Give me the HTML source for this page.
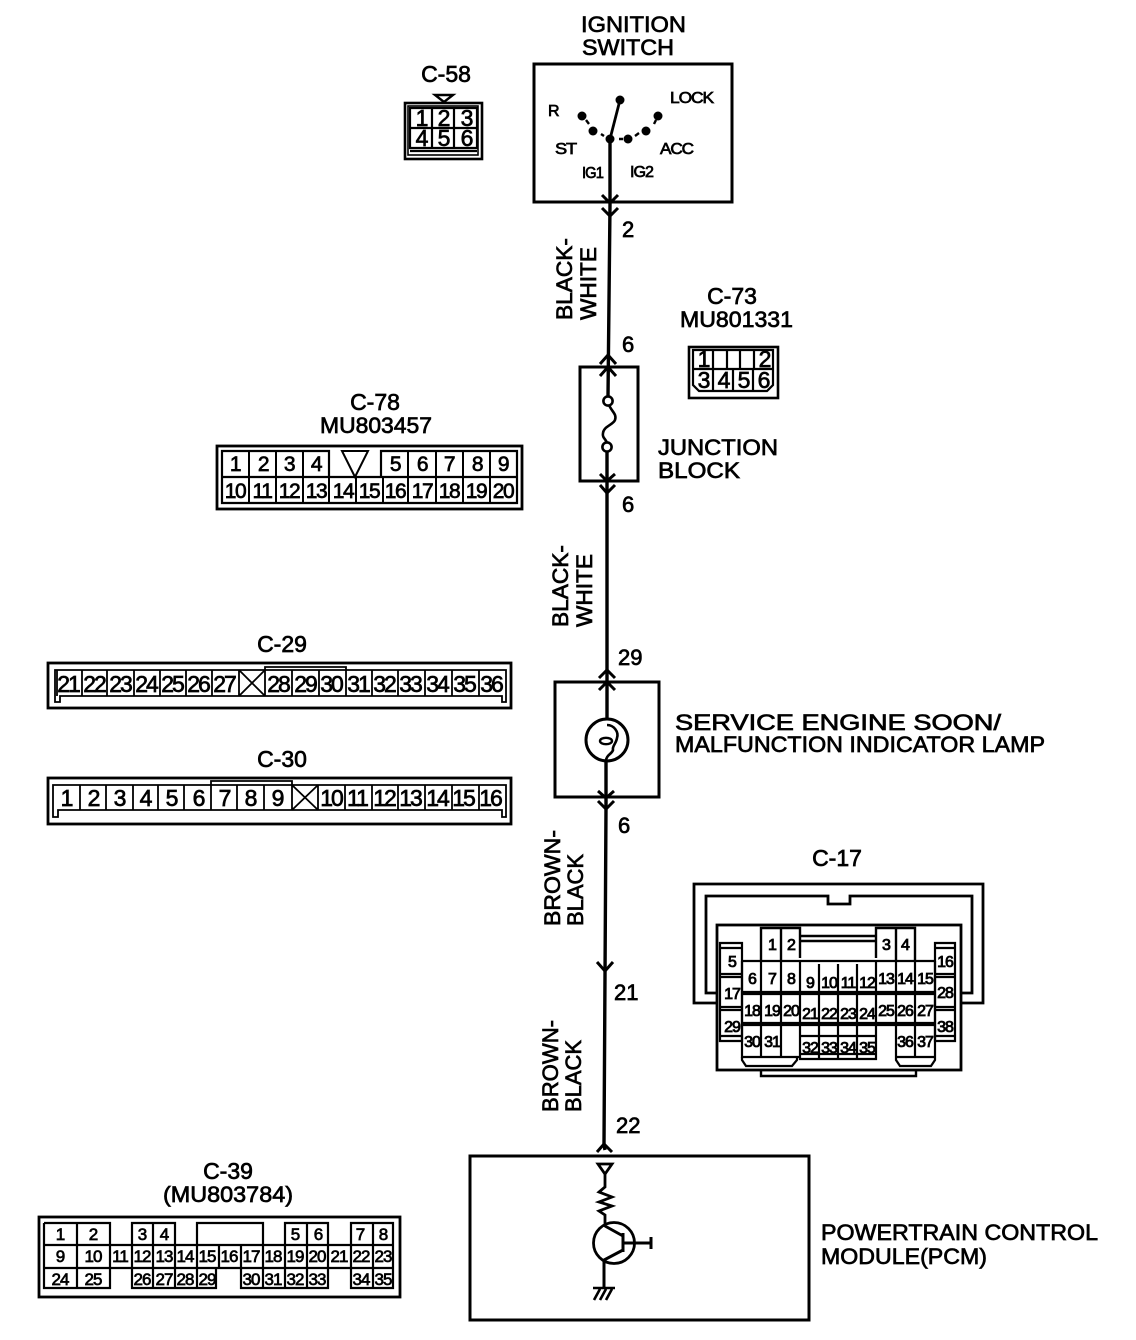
<!DOCTYPE html>
<html>
<head>
<meta charset="utf-8">
<style>
html,body{margin:0;padding:0;background:#fff}
svg{display:block}
text{font-family:"Liberation Sans",sans-serif;fill:#000;stroke:#000;stroke-width:.7px}
.l{font-size:22px}
.h{font-size:23px;text-anchor:middle}
.s{font-size:16px;letter-spacing:-1px;stroke-width:.7px}
.n{font-size:23px;letter-spacing:-2px;text-anchor:middle;stroke-width:.7px}
.m{font-size:21px;letter-spacing:-1.4px;text-anchor:middle;stroke-width:.7px}
.t{font-size:17px;letter-spacing:-.9px;text-anchor:middle;stroke-width:.7px}
.u{font-size:16px;letter-spacing:-1px;text-anchor:middle;stroke-width:.85px}
.c{text-anchor:middle}
</style>
</head>
<body>
<svg width="1136" height="1340" viewBox="0 0 1136 1340" xmlns="http://www.w3.org/2000/svg">
<rect width="1136" height="1340" fill="#fff"/>
<g fill="none" stroke="#000" stroke-width="3">
<!-- Main boxes -->
<rect x="534" y="64" width="198" height="138"/>
<rect x="580" y="367" width="58" height="114"/>
<rect x="555" y="682" width="104" height="115"/>
<rect x="470" y="1156" width="339" height="164"/>
<!-- Wire -->
<path d="M610 139V205L608 396M607 452V719M606 760V808L604 1145L605 1150" stroke-width="3.4"/>
<!-- chevrons -->
<path d="M602 195L610 203L618 195M602 208L610 216L618 208" stroke-width="3"/>
<path d="M600 364L608 355L616 364M600 376L608 367L616 376" stroke-width="3"/>
<path d="M600 474L607 481L615 474M600 485L607 493L615 485" stroke-width="3"/>
<path d="M599 678L607 670L615 678M599 690L607 682L615 690" stroke-width="3"/>
<path d="M598 791L606 798L614 791M598 801L606 809L614 801" stroke-width="3"/>
<path d="M597 962L605 971L613 962" stroke-width="3"/>
<path d="M597 1152L604 1144L612 1152" stroke-width="3"/>
<!-- switch -->
<path d="M610 139L620 100" stroke-width="2.8"/>
<path d="M586 120L589 124M601 134L604 136M619 139H623M635 136L639 133M654 124L656 120" stroke-width="2.4"/>
<!-- fuse -->
<circle cx="608" cy="401" r="4.6" stroke-width="2.6"/>
<circle cx="607" cy="447" r="4.6" stroke-width="2.6"/>
<path d="M609 405C612 412 617 414 615 420C613 425 604 426 603 433C602 438 606 439 607 443" stroke-width="2.6"/>
<!-- lamp -->
<circle cx="607" cy="740" r="21" stroke-width="3"/>
<path d="M607 725C614 725 619 732 617 738C616 744 612 746 613 750C612 754 606 755 606 761" stroke-width="2.6"/>
<ellipse cx="606" cy="741" rx="6" ry="3.2" stroke-width="2.4"/>
<!-- PCM symbol -->
<path d="M598 1164H612L605 1174Z" stroke-width="2.8"/>
<path d="M605 1174V1187L599 1192L612 1197L599 1202L612 1206L599 1211L605 1215V1227" stroke-width="2.8"/>
<circle cx="614" cy="1243" r="20.5" stroke-width="2.8"/>
<path d="M623 1233V1252M623 1243H651M651 1237V1249M605 1226L623 1236M623 1250L604 1260V1287" stroke-width="3"/>
<path d="M593 1288H615M594 1300L600 1289M600 1300L606 1289M606 1300L612 1289" stroke-width="2.6"/>

<!-- C-58 -->
<rect x="405" y="103" width="77" height="56" stroke-width="2.6"/>
<rect x="408" y="106" width="70" height="49" stroke-width="1.6"/>
<path d="M410 108H477V148H410ZM410 128H477M432 108V148M454 108V148M410 151H477" stroke-width="2.2"/>
<path d="M435 95H453L444 102Z" stroke-width="2.4"/>

<!-- C-73 -->
<rect x="689" y="347" width="89" height="51" stroke-width="2.6"/>
<path d="M693 350H773V385L767 391H699L693 385Z" stroke-width="2.2"/>
<path d="M693 369H773M713 350V369M727 350V369M740 350V369M754 350V369M713 369V391M733 369V391M753 369V391" stroke-width="2.2"/>

<!-- C-78 -->
<rect x="217" y="446" width="305" height="63" stroke-width="2.8"/>
<path d="M222 477V451H329V477M381 477V451H517V477M222 477H517V503H222Z" stroke-width="2.2"/>
<path d="M249 451V503M276 451V503M303 451V503M329 451V503M356 477V503M383 477V503M381 451V477M408 451V503M436 451V503M463 451V503M490 451V503M342 451H368L355 477Z" stroke-width="2"/>

<!-- C-29 -->
<rect x="48" y="663" width="463" height="45" stroke-width="2.8"/>
<path d="M55 670H506V702H502V696H60V702H55Z" stroke-width="1.8"/>
<path d="M265 670V667H346V670M57 670V696M82 670V696M107 670V696M134 670V696M160 670V696M186 670V696M212 670V696M239 670V696M265 670V696M292 670V696M319 670V696M346 670V696M372 670V696M398 670V696M425 670V696M452 670V696M479 670V696M239 670L265 696M265 670L239 696" stroke-width="1.8"/>

<!-- C-30 -->
<rect x="48" y="778" width="463" height="46" stroke-width="2.8"/>
<path d="M53 785H506V817H502V810H58V817H53Z" stroke-width="1.8"/>
<path d="M211 785V781H292V785M80 785V810M106 785V810M133 785V810M158 785V810M184 785V810M211 785V810M237 785V810M264 785V810M292 785V810M318 785V810M345 785V810M372 785V810M398 785V810M425 785V810M452 785V810M479 785V810M292 785L318 810M318 785L292 810" stroke-width="1.8"/>

<!-- C-39 -->
<rect x="39" y="1217" width="361" height="80" stroke-width="2.8"/>
<path d="M44 1223H110V1245M44 1223V1288H110V1268M77 1223V1288M132 1245V1223H175V1245M153 1223V1245M197 1245V1223H263V1245M285 1245V1223H328V1245M307 1223V1245M351 1245V1223H393V1288H351V1268M373 1223V1288M44 1245H393M44 1268H393M110 1245V1288M132 1245V1288H216V1268M153 1245V1288M175 1245V1288M197 1245V1288M219 1245V1268M241 1245V1288H328V1268M263 1245V1288M285 1245V1288M307 1245V1288M328 1245V1288M351 1245V1288" stroke-width="2.2"/>

<!-- C-17 -->
<path d="M717 1003H694V884H983V1003H961" stroke-width="2.8"/>
<path d="M717 993H706V896H828V904H850V896H972V993H961" stroke-width="2.8"/>
<rect x="717" y="925" width="244" height="145" stroke-width="2.8"/>
<path d="M761 1070V1076H916V1070" stroke-width="2.4"/>
<path d="M761 961V928H800V958M781 928V961M800 936H876M800 941H876M876 958V928H915V961M896 928V961" stroke-width="2.4"/>
<path d="M720 943H742V1041H720ZM720 948H742M720 974H742M720 977H742M720 1007H742M720 1010H742M720 1036H742" stroke-width="2.2"/>
<path d="M935 943H955V1041H935ZM935 948H955M935 974H955M935 977H955M935 1007H955M935 1010H955M935 1036H955" stroke-width="2.2"/>
<path d="M742 961H935M742 992H935M742 994H935M742 1023H935M742 1025H935M742 961V1057H800M761 961V1057M781 961V1057M800 961V1026M896 961V1057M915 961V1057M935 961V1057M876 961V1026M896 1057H935" stroke-width="2.2"/>
<path d="M742 1057V1060L746 1066H792L797 1060V1057M896 1057V1060L900 1066H931L935 1060V1057" stroke-width="2.2"/>
<path d="M800 1026V1059H876V1026M819 964V1059M838 964V1059M857 964V1059M800 1036H876M800 1054H876" stroke-width="2.2"/>
</g>
<g fill="#000" stroke="none">
<circle cx="620" cy="100" r="4.5"/>
<circle cx="582" cy="116" r="4.5"/>
<circle cx="593" cy="131" r="4.5"/>
<circle cx="610" cy="139" r="4.5"/>
<circle cx="628" cy="139" r="4.5"/>
<circle cx="646" cy="131" r="4.5"/>
<circle cx="658" cy="116" r="4.5"/>
</g>

<!-- Main labels -->
<text class="l" x="581" y="32" textLength="105" lengthAdjust="spacingAndGlyphs">IGNITION</text>
<text class="l" x="582" y="55" textLength="92" lengthAdjust="spacingAndGlyphs">SWITCH</text>
<text class="s" x="548" y="116">R</text>
<text class="s" x="670" y="103" textLength="43" lengthAdjust="spacingAndGlyphs">LOCK</text>
<text class="s" x="555" y="154" textLength="21" lengthAdjust="spacingAndGlyphs">ST</text>
<text class="s" x="660" y="154" textLength="33" lengthAdjust="spacingAndGlyphs">ACC</text>
<text class="s" x="582" y="178" textLength="21" lengthAdjust="spacingAndGlyphs">IG1</text>
<text class="s" x="630" y="177" textLength="23" lengthAdjust="spacingAndGlyphs">IG2</text>

<text class="h" x="446" y="82">C-58</text>
<text class="h" x="732" y="304">C-73</text>
<text class="l" x="680" y="327" textLength="113" lengthAdjust="spacingAndGlyphs">MU801331</text>
<text class="h" x="375" y="410">C-78</text>
<text class="l" x="320" y="433" textLength="112" lengthAdjust="spacingAndGlyphs">MU803457</text>
<text class="h" x="282" y="652">C-29</text>
<text class="h" x="282" y="767">C-30</text>
<text class="h" x="837" y="866">C-17</text>
<text class="h" x="228" y="1179">C-39</text>
<text class="l" x="163" y="1202" textLength="130" lengthAdjust="spacingAndGlyphs">(MU803784)</text>

<text class="l" x="658" y="455" textLength="120" lengthAdjust="spacingAndGlyphs">JUNCTION</text>
<text class="l" x="658" y="478" textLength="82" lengthAdjust="spacingAndGlyphs">BLOCK</text>
<text class="l" x="675" y="730" textLength="326" lengthAdjust="spacingAndGlyphs">SERVICE ENGINE SOON/</text>
<text class="l" x="675" y="752" textLength="370" lengthAdjust="spacingAndGlyphs">MALFUNCTION INDICATOR LAMP</text>
<text class="l" x="821" y="1240" textLength="277" lengthAdjust="spacingAndGlyphs">POWERTRAIN CONTROL</text>
<text class="l" x="821" y="1264" textLength="166" lengthAdjust="spacingAndGlyphs">MODULE(PCM)</text>

<!-- Wire pins -->
<text class="l" x="622" y="237">2</text>
<text class="l" x="622" y="352">6</text>
<text class="l" x="622" y="512">6</text>
<text class="l" x="618" y="665">29</text>
<text class="l" x="618" y="833">6</text>
<text class="l" x="614" y="1000">21</text>
<text class="l" x="616" y="1133">22</text>

<!-- Rotated wire colours -->
<text class="l" transform="translate(572 320) rotate(-90)" textLength="82" lengthAdjust="spacingAndGlyphs">BLACK-</text>
<text class="l" transform="translate(596 320) rotate(-90)" textLength="73" lengthAdjust="spacingAndGlyphs">WHITE</text>
<text class="l" transform="translate(568 627) rotate(-90)" textLength="82" lengthAdjust="spacingAndGlyphs">BLACK-</text>
<text class="l" transform="translate(592 627) rotate(-90)" textLength="73" lengthAdjust="spacingAndGlyphs">WHITE</text>
<text class="l" transform="translate(560 926) rotate(-90)" textLength="96" lengthAdjust="spacingAndGlyphs">BROWN-</text>
<text class="l" transform="translate(583 926) rotate(-90)" textLength="72" lengthAdjust="spacingAndGlyphs">BLACK</text>
<text class="l" transform="translate(558 1112) rotate(-90)" textLength="92" lengthAdjust="spacingAndGlyphs">BROWN-</text>
<text class="l" transform="translate(581 1112) rotate(-90)" textLength="72" lengthAdjust="spacingAndGlyphs">BLACK</text>

<!-- C-58 pins -->
<text class="n" x="421" y="126">1</text><text class="n" x="443" y="126">2</text><text class="n" x="466" y="126">3</text>
<text class="n" x="421" y="146">4</text><text class="n" x="443" y="146">5</text><text class="n" x="466" y="146">6</text>

<!-- C-73 pins -->
<text class="n" x="703" y="367">1</text><text class="n" x="764" y="367">2</text>
<text class="n" x="703" y="388">3</text><text class="n" x="723" y="388">4</text><text class="n" x="743" y="388">5</text><text class="n" x="763" y="388">6</text>

<!-- C-78 pins -->
<text class="m" x="235" y="471">1</text><text class="m" x="263" y="471">2</text><text class="m" x="289" y="471">3</text><text class="m" x="316" y="471">4</text>
<text class="m" x="395" y="471">5</text><text class="m" x="422" y="471">6</text><text class="m" x="449" y="471">7</text><text class="m" x="477" y="471">8</text><text class="m" x="503" y="471">9</text>
<text class="m" x="235" y="498">10</text><text class="m" x="262" y="498">11</text><text class="m" x="289" y="498">12</text><text class="m" x="316" y="498">13</text><text class="m" x="343" y="498">14</text><text class="m" x="369" y="498">15</text><text class="m" x="395" y="498">16</text><text class="m" x="422" y="498">17</text><text class="m" x="449" y="498">18</text><text class="m" x="476" y="498">19</text><text class="m" x="503" y="498">20</text>

<!-- C-29 pins -->
<text class="n" x="68" y="692">21</text><text class="n" x="94" y="692">22</text><text class="n" x="120" y="692">23</text><text class="n" x="146" y="692">24</text><text class="n" x="172" y="692">25</text><text class="n" x="198" y="692">26</text><text class="n" x="224" y="692">27</text>
<text class="n" x="278" y="692">28</text><text class="n" x="305" y="692">29</text><text class="n" x="331" y="692">30</text><text class="n" x="358" y="692">31</text><text class="n" x="384" y="692">32</text><text class="n" x="410" y="692">33</text><text class="n" x="437" y="692">34</text><text class="n" x="464" y="692">35</text><text class="n" x="491" y="692">36</text>

<!-- C-30 pins -->
<text class="n" x="66" y="806">1</text><text class="n" x="93" y="806">2</text><text class="n" x="119" y="806">3</text><text class="n" x="145" y="806">4</text><text class="n" x="171" y="806">5</text><text class="n" x="198" y="806">6</text><text class="n" x="224" y="806">7</text><text class="n" x="250" y="806">8</text><text class="n" x="277" y="806">9</text>
<text class="n" x="331" y="806">10</text><text class="n" x="357" y="806">11</text><text class="n" x="384" y="806">12</text><text class="n" x="410" y="806">13</text><text class="n" x="437" y="806">14</text><text class="n" x="463" y="806">15</text><text class="n" x="490" y="806">16</text>

<!-- C-39 pins -->
<text class="t" x="60" y="1240">1</text><text class="t" x="93" y="1240">2</text><text class="t" x="142" y="1240">3</text><text class="t" x="164" y="1240">4</text><text class="t" x="295" y="1240">5</text><text class="t" x="318" y="1240">6</text><text class="t" x="360" y="1240">7</text><text class="t" x="383" y="1240">8</text>
<text class="t" x="60" y="1262">9</text><text class="t" x="93" y="1262">10</text><text class="t" x="120" y="1262">11</text><text class="t" x="142" y="1262">12</text><text class="t" x="164" y="1262">13</text><text class="t" x="185" y="1262">14</text><text class="t" x="207" y="1262">15</text><text class="t" x="229" y="1262">16</text><text class="t" x="251" y="1262">17</text><text class="t" x="273" y="1262">18</text><text class="t" x="295" y="1262">19</text><text class="t" x="317" y="1262">20</text><text class="t" x="339" y="1262">21</text><text class="t" x="361" y="1262">22</text><text class="t" x="383" y="1262">23</text>
<text class="t" x="60" y="1285">24</text><text class="t" x="93" y="1285">25</text><text class="t" x="142" y="1285">26</text><text class="t" x="164" y="1285">27</text><text class="t" x="185" y="1285">28</text><text class="t" x="207" y="1285">29</text><text class="t" x="251" y="1285">30</text><text class="t" x="273" y="1285">31</text><text class="t" x="295" y="1285">32</text><text class="t" x="317" y="1285">33</text><text class="t" x="361" y="1285">34</text><text class="t" x="383" y="1285">35</text>

<!-- C-17 pins -->
<text class="u" x="772" y="950">1</text><text class="u" x="791" y="950">2</text><text class="u" x="886" y="950">3</text><text class="u" x="905" y="950">4</text>
<text class="u" x="732" y="967">5</text><text class="u" x="945" y="967">16</text>
<text class="u" x="752" y="984">6</text><text class="u" x="772" y="984">7</text><text class="u" x="791" y="984">8</text><text class="u" x="810" y="988">9</text><text class="u" x="829" y="988">10</text><text class="u" x="848" y="988">11</text><text class="u" x="867" y="988">12</text><text class="u" x="886" y="984">13</text><text class="u" x="905" y="984">14</text><text class="u" x="925" y="984">15</text>
<text class="u" x="732" y="999">17</text><text class="u" x="945" y="998">28</text>
<text class="u" x="752" y="1016">18</text><text class="u" x="772" y="1016">19</text><text class="u" x="791" y="1016">20</text><text class="u" x="810" y="1019">21</text><text class="u" x="829" y="1019">22</text><text class="u" x="848" y="1019">23</text><text class="u" x="867" y="1019">24</text><text class="u" x="886" y="1016">25</text><text class="u" x="905" y="1016">26</text><text class="u" x="925" y="1016">27</text>
<text class="u" x="732" y="1032">29</text><text class="u" x="945" y="1032">38</text>
<text class="u" x="752" y="1047">30</text><text class="u" x="772" y="1047">31</text><text class="u" x="810" y="1053">32</text><text class="u" x="829" y="1053">33</text><text class="u" x="848" y="1053">34</text><text class="u" x="867" y="1053">35</text><text class="u" x="905" y="1047">36</text><text class="u" x="925" y="1047">37</text>
</svg>
</body>
</html>
